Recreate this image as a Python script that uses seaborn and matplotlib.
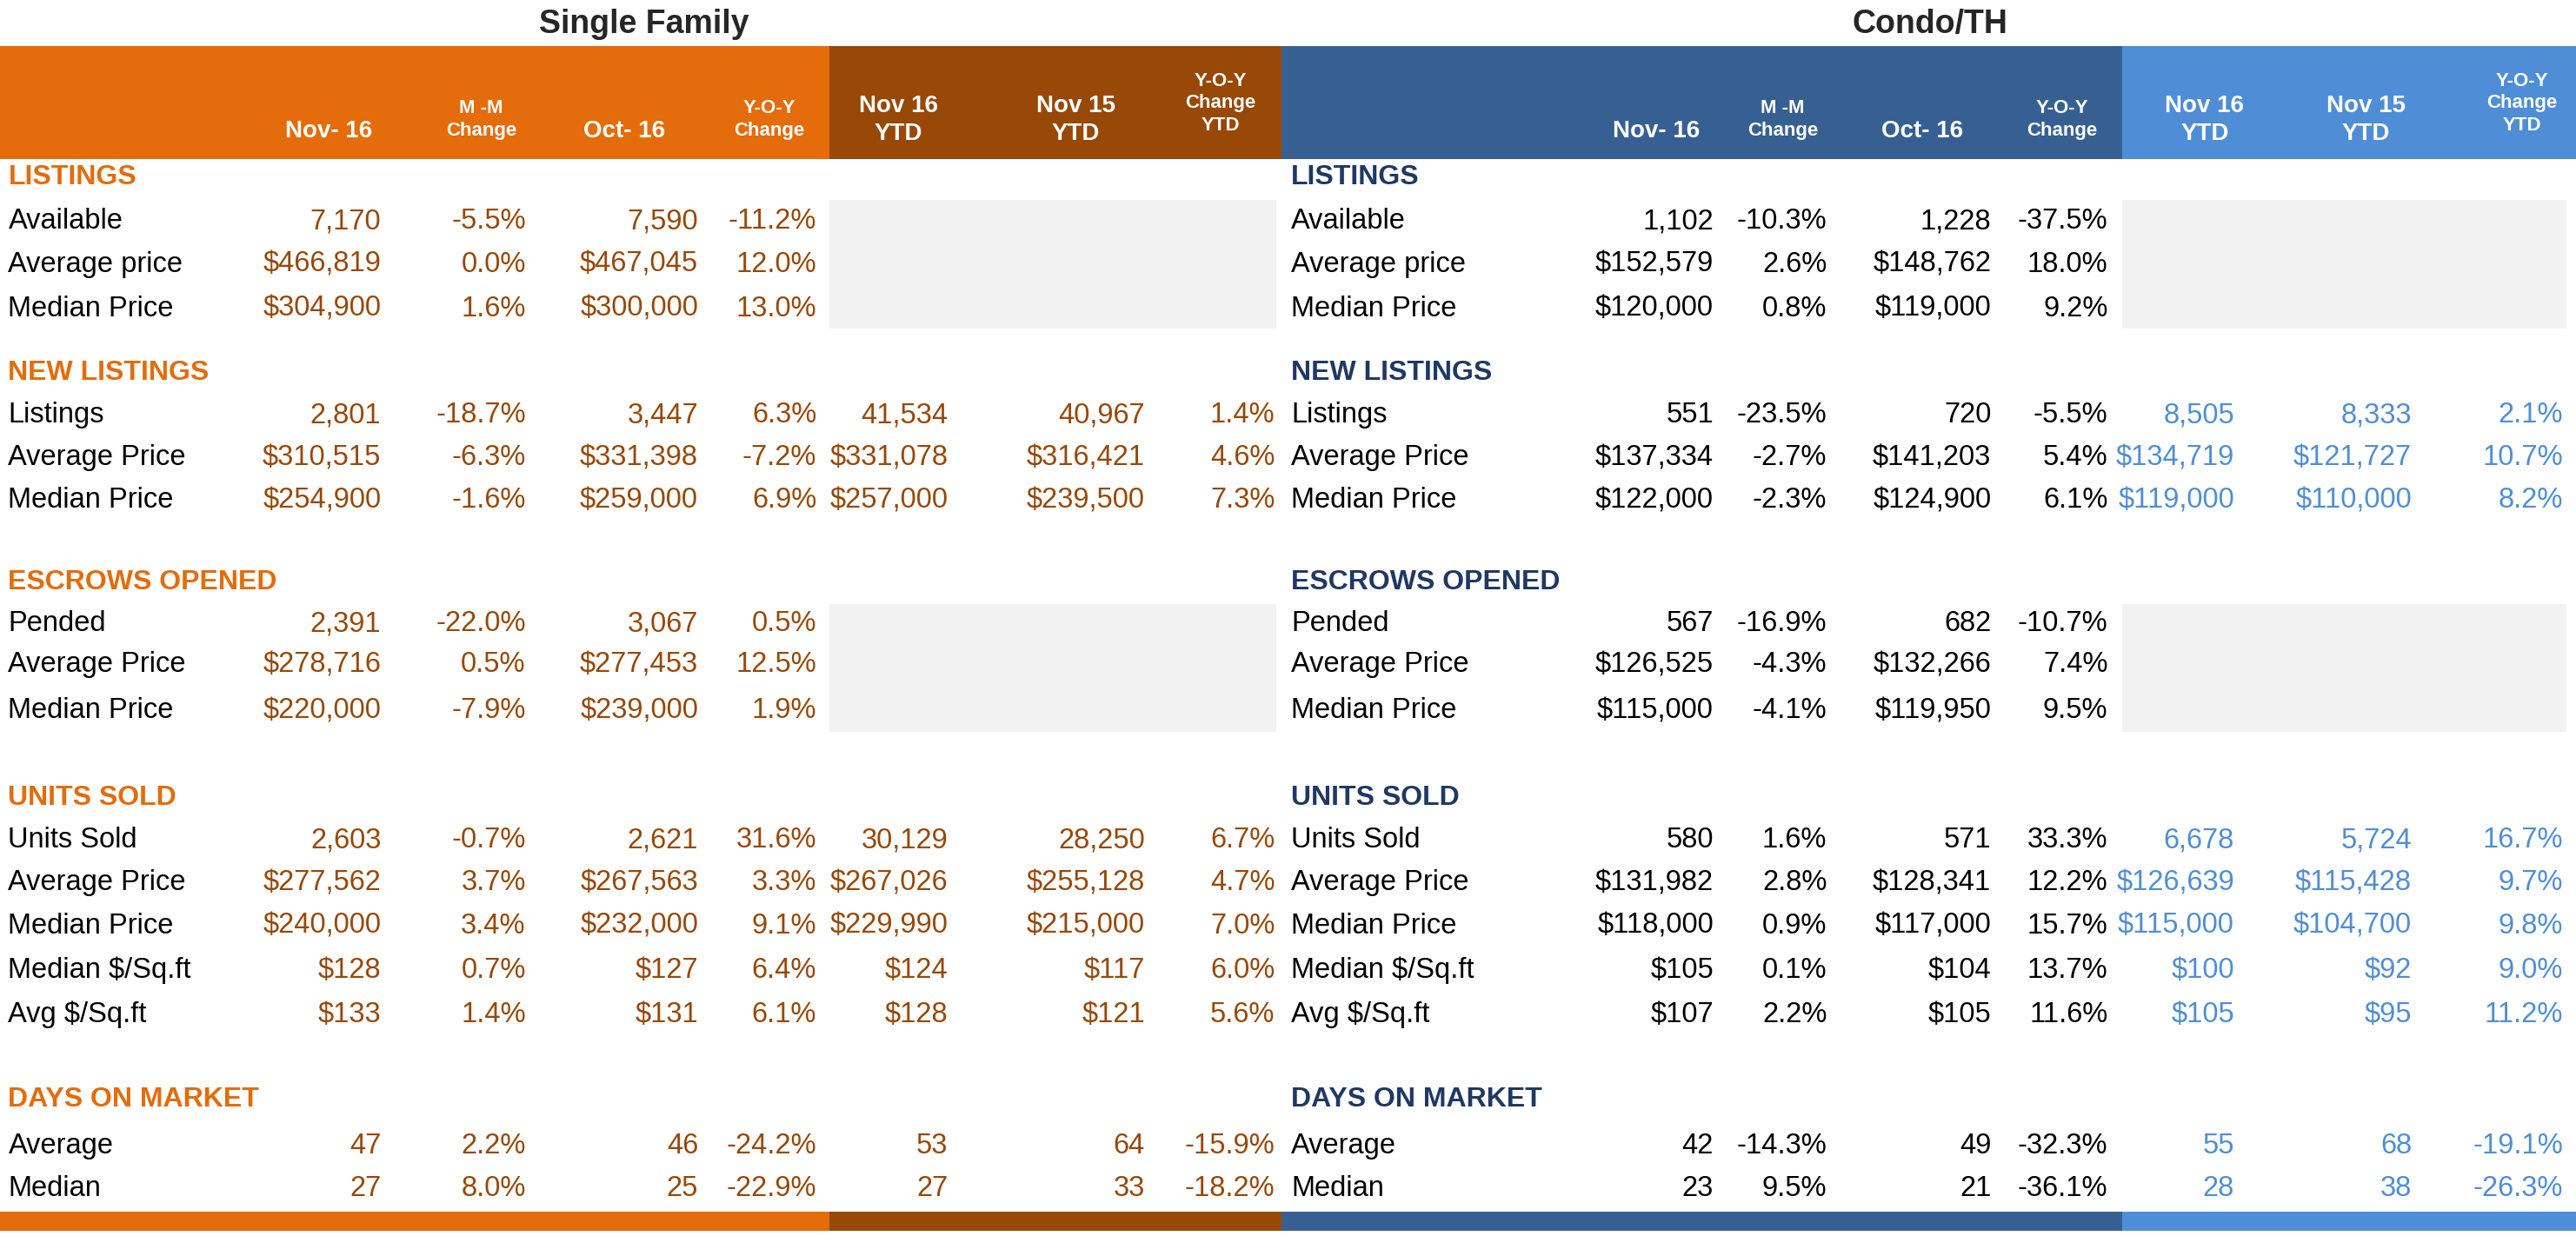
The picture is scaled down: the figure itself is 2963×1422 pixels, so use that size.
import matplotlib
matplotlib.use("Agg")
import matplotlib.pyplot as plt
import seaborn as sns

sns.set_theme(style="white")
plt.rcParams["font.family"] = ["Liberation Sans", "DejaVu Sans"]

# ---- data ----
sections = ["LISTINGS", "NEW LISTINGS", "ESCROWS OPENED", "UNITS SOLD", "DAYS ON MARKET"]
row_labels = [
    ["Available", "Average price", "Median Price"],
    ["Listings", "Average Price", "Median Price"],
    ["Pended", "Average Price", "Median Price"],
    ["Units Sold", "Average Price", "Median Price", "Median $/Sq.ft", "Avg $/Sq.ft"],
    ["Average", "Median"],
]
sf_values = [
    [["7,170", "-5.5%", "7,590", "-11.2%"],
     ["$466,819", "0.0%", "$467,045", "12.0%"],
     ["$304,900", "1.6%", "$300,000", "13.0%"]],
    [["2,801", "-18.7%", "3,447", "6.3%", "41,534", "40,967", "1.4%"],
     ["$310,515", "-6.3%", "$331,398", "-7.2%", "$331,078", "$316,421", "4.6%"],
     ["$254,900", "-1.6%", "$259,000", "6.9%", "$257,000", "$239,500", "7.3%"]],
    [["2,391", "-22.0%", "3,067", "0.5%"],
     ["$278,716", "0.5%", "$277,453", "12.5%"],
     ["$220,000", "-7.9%", "$239,000", "1.9%"]],
    [["2,603", "-0.7%", "2,621", "31.6%", "30,129", "28,250", "6.7%"],
     ["$277,562", "3.7%", "$267,563", "3.3%", "$267,026", "$255,128", "4.7%"],
     ["$240,000", "3.4%", "$232,000", "9.1%", "$229,990", "$215,000", "7.0%"],
     ["$128", "0.7%", "$127", "6.4%", "$124", "$117", "6.0%"],
     ["$133", "1.4%", "$131", "6.1%", "$128", "$121", "5.6%"]],
    [["47", "2.2%", "46", "-24.2%", "53", "64", "-15.9%"],
     ["27", "8.0%", "25", "-22.9%", "27", "33", "-18.2%"]],
]
condo_values = [
    [["1,102", "-10.3%", "1,228", "-37.5%"],
     ["$152,579", "2.6%", "$148,762", "18.0%"],
     ["$120,000", "0.8%", "$119,000", "9.2%"]],
    [["551", "-23.5%", "720", "-5.5%", "8,505", "8,333", "2.1%"],
     ["$137,334", "-2.7%", "$141,203", "5.4%", "$134,719", "$121,727", "10.7%"],
     ["$122,000", "-2.3%", "$124,900", "6.1%", "$119,000", "$110,000", "8.2%"]],
    [["567", "-16.9%", "682", "-10.7%"],
     ["$126,525", "-4.3%", "$132,266", "7.4%"],
     ["$115,000", "-4.1%", "$119,950", "9.5%"]],
    [["580", "1.6%", "571", "33.3%", "6,678", "5,724", "16.7%"],
     ["$131,982", "2.8%", "$128,341", "12.2%", "$126,639", "$115,428", "9.7%"],
     ["$118,000", "0.9%", "$117,000", "15.7%", "$115,000", "$104,700", "9.8%"],
     ["$105", "0.1%", "$104", "13.7%", "$100", "$92", "9.0%"],
     ["$107", "2.2%", "$105", "11.6%", "$105", "$95", "11.2%"]],
    [["42", "-14.3%", "49", "-32.3%", "55", "68", "-19.1%"],
     ["23", "9.5%", "21", "-36.1%", "28", "38", "-26.3%"]],
]
headers = ["Nov- 16", "M -M\nChange", "Oct- 16", "Y-O-Y\nChange",
           "Nov 16\nYTD", "Nov 15\nYTD", "Y-O-Y\nChange\nYTD"]

# ---- layout (in reference display units) ----
ORANGE, BROWN = "#E46C0A", "#984807"
DBLUE, LBLUE = "#376092", "#4F8ED6"
NAVY = "#1F3864"
section_y = [108, 227, 355, 486, 670]
row_y = [[135, 161, 188], [253, 279, 305], [380, 405, 433],
         [512, 538, 564, 591, 618], [698, 724]]
sf_right = [232, 320, 425, 497, 577, 697, 776]
sf_head = [200, 293, 380, 468, 547, 655, 743]
co_right = [1043, 1112, 1212, 1283, 1360, 1468, 1560]
co_head = [1008, 1085, 1170, 1255, 1342, 1440, 1535]

fig = plt.figure(figsize=(29.63, 14.22), dpi=100)
ax = fig.add_axes([0, 0, 1, 1])
ax.set_xlim(0, 1568)
ax.set_ylim(753, 0)
ax.axis("off")

def rect(x0, x1, y0, y1, c):
    ax.add_patch(plt.Rectangle((x0, y0), x1 - x0, y1 - y0, color=c, lw=0))

for x0, x1, c in [(0, 505, ORANGE), (505, 780, BROWN), (780, 1292, DBLUE), (1292, 1568, LBLUE)]:
    rect(x0, x1, 28, 97, c)
    rect(x0, x1, 738, 750, c)
for x0, x1 in [(505, 777), (1292, 1562)]:
    rect(x0, x1, 122, 200, "#F2F2F2")
    rect(x0, x1, 368, 446, "#F2F2F2")

ax.text(392, 15, "Single Family", ha="center", va="center", fontsize=27, weight="bold")
ax.text(1175, 15, "Condo/TH", ha="center", va="center", fontsize=27, weight="bold")

for xs in (sf_head, co_head):
    for i, (x, h) in enumerate(zip(xs, headers)):
        big = i in (0, 2, 4, 5)
        ax.text(x, 80 if i in (0, 2) else 73 if h.count("\n") == 1 else 63, h,
                ha="center", va="center", color="white", weight="bold",
                fontsize=20 if big else 16, linespacing=1.3)

def draw_block(label_x, rights, values, sec_color, val_color, ytd_color):
    for s, name in enumerate(sections):
        ax.text(label_x, section_y[s], name, ha="left", va="center",
                fontsize=23, weight="bold", color=sec_color)
        for r, lab in enumerate(row_labels[s]):
            y = row_y[s][r]
            ax.text(label_x, y, lab, ha="left", va="center", fontsize=23.5, color="black")
            for c, v in enumerate(values[s][r]):
                col = ytd_color if c >= 4 else val_color
                ax.text(rights[c], y, v, ha="right", va="center", fontsize=23.5, color=col)

draw_block(5, sf_right, sf_values, ORANGE, BROWN, BROWN)
draw_block(786, co_right, condo_values, NAVY, "black", LBLUE)

fig.savefig("out.png", dpi=100)
